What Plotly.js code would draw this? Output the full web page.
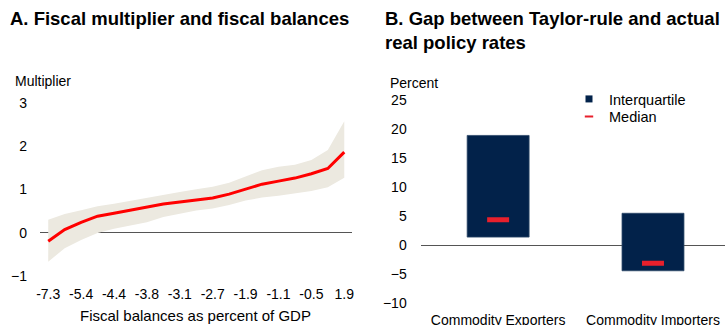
<!DOCTYPE html>
<html>
<head>
<meta charset="utf-8">
<script src="https://cdn.plot.ly/plotly-3.0.1.min.js"></script>
<style>html,body{margin:0;padding:0;background:#fff}#chart{width:725px;height:325px}</style>
</head>
<body>
<div id="chart"></div>
<script>
// ---- Panel A data ----
var pointIndex = [0,1,2,3,4,5,6,7,8,9,10,11,12,13,14,15,16,17,18];
var tickIndex = [0,2,4,6,8,10,12,14,16,18];
var tickLabels = ['-7.3','-5.4','-4.4','-3.8','-3.1','-2.7','-1.9','-1.1','-0.5','1.9'];
var multiplier = [-0.20,0.07,0.24,0.38,0.45,0.52,0.58,0.66,0.71,0.76,0.80,0.89,1.00,1.12,1.19,1.26,1.36,1.48,1.86];
var upperBand  = [0.30,0.43,0.52,0.61,0.67,0.74,0.80,0.87,0.94,1.00,1.06,1.15,1.30,1.44,1.52,1.57,1.68,1.91,2.57];
var lowerBand  = [-0.67,-0.36,-0.17,-0.01,0.09,0.17,0.24,0.36,0.43,0.51,0.56,0.64,0.74,0.81,0.85,0.91,0.96,1.05,1.27];

// ---- Panel B data ----
var groups = ['Commodity Exporters','Commodity Importers'];
var quartile1 = [1.4, -4.4];
var quartile3 = [18.9, 5.5];
var medians = [4.4, -3.1];

var W = 725, H = 325;
function px(x){ return x / W; }
function py(y){ return (H - y) / H; }

var FONT = 'Liberation Sans, Arial, Helvetica, sans-serif';
var NAVY = '#02224A';
var RED = '#E8202C';

var traces = [
  {x: pointIndex, y: lowerBand, type: 'scatter', mode: 'lines', line: {width: 0, color: '#ECE9E0'},
   hoverinfo: 'skip', showlegend: false, xaxis: 'x', yaxis: 'y'},
  {x: pointIndex, y: upperBand, type: 'scatter', mode: 'lines', line: {width: 0, color: '#ECE9E0'},
   fill: 'tonexty', fillcolor: '#ECE9E0', hoverinfo: 'skip', showlegend: false, xaxis: 'x', yaxis: 'y'},
  {x: pointIndex, y: multiplier, type: 'scatter', mode: 'lines', line: {width: 3, color: '#FF0000'},
   showlegend: false, xaxis: 'x', yaxis: 'y'},
  {x: groups, y: quartile3.map(function(v, i){ return v - quartile1[i]; }), base: quartile1, type: 'bar',
   width: 0.4, marker: {color: NAVY, line: {color: '#2c4868', width: 0.8}},
   showlegend: false, xaxis: 'x2', yaxis: 'y2'},
  {x: groups, y: medians, type: 'scatter', mode: 'markers',
   marker: {symbol: 'line-ew', size: 15.7, line: {width: 5, color: RED}},
   showlegend: false, xaxis: 'x2', yaxis: 'y2'},
  // legend entries
  {x: [null], y: [null], type: 'scatter', mode: 'markers', name: 'Interquartile', legend: 'legend',
   marker: {symbol: 'square', size: 7, color: NAVY}, xaxis: 'x2', yaxis: 'y2'},
  {x: [null], y: [null], type: 'scatter', mode: 'markers', name: 'Median', legend: 'legend2',
   marker: {symbol: 'line-ew', size: 6, line: {width: 2, color: RED}}, xaxis: 'x2', yaxis: 'y2'}
];

var axisFont = {family: FONT, size: 14, color: '#000'};
var legendFont = {family: FONT, size: 14.5, color: '#000'};

var layout = {
  width: W, height: H,
  margin: {l: 0, r: 0, t: 0, b: 0},
  paper_bgcolor: '#fff', plot_bgcolor: 'rgba(0,0,0,0)',
  font: {family: FONT, size: 14, color: '#000'},
  showlegend: true,
  legend: {x: px(569), y: py(83), xanchor: 'left', yanchor: 'top', bgcolor: 'rgba(0,0,0,0)',
           traceorder: 'normal', font: legendFont, tracegroupgap: 0, itemwidth: 30},
  legend2: {x: px(569), y: py(100.5), xanchor: 'left', yanchor: 'top', bgcolor: 'rgba(0,0,0,0)',
           traceorder: 'normal', font: legendFont, tracegroupgap: 0, itemwidth: 30},
  xaxis: {domain: [px(40), px(352)], range: [-0.5, 18.47], tickmode: 'array', tickvals: tickIndex,
          ticktext: tickLabels, showgrid: false, zeroline: false, showline: false, ticks: '',
          tickfont: axisFont, ticklabelstandoff: 8, anchor: 'y', fixedrange: true},
  yaxis: {domain: [py(276), py(102.7)], range: [-1, 3], dtick: 1, showgrid: false, zeroline: true,
          zerolinecolor: '#555', zerolinewidth: 1, showline: false, ticks: '', tickfont: axisFont,
          ticklabelstandoff: 12, anchor: 'x', fixedrange: true},
  xaxis2: {domain: [px(420.7), 1], range: [-0.5, 1.465], type: 'category', showgrid: false,
           zeroline: false, showline: false, ticks: '', tickfont: axisFont, ticklabelstandoff: 7,
           anchor: 'y2', fixedrange: true},
  yaxis2: {domain: [py(303.3), py(100)], range: [-10, 25], dtick: 5, showgrid: false, zeroline: true,
           zerolinecolor: '#555', zerolinewidth: 1, showline: false, ticks: '', tickfont: axisFont,
           ticklabelstandoff: 13, anchor: 'x2', fixedrange: true},
  annotations: [
    {text: '<b>A. Fiscal multiplier and fiscal balances</b>', xref: 'paper', yref: 'paper',
     x: px(8), y: py(6), xanchor: 'left', yanchor: 'top', showarrow: false,
     font: {family: FONT, size: 18.5, color: '#000'}},
    {text: '<b>B. Gap between Taylor-rule and actual<br>real policy rates</b>', xref: 'paper', yref: 'paper',
     x: px(383), y: py(6), xanchor: 'left', yanchor: 'top', align: 'left', showarrow: false,
     font: {family: FONT, size: 18.5, color: '#000'}},
    {text: 'Multiplier', xref: 'paper', yref: 'paper', x: px(13), y: py(81), xanchor: 'left',
     yanchor: 'middle', showarrow: false, font: axisFont},
    {text: 'Percent', xref: 'paper', yref: 'paper', x: px(388), y: py(83), xanchor: 'left',
     yanchor: 'middle', showarrow: false, font: axisFont},
    {text: 'Fiscal balances as percent of GDP', xref: 'paper', yref: 'paper', x: px(196), y: py(315),
     xanchor: 'center', yanchor: 'middle', showarrow: false, font: {family: FONT, size: 15, color: '#000'}}
  ]
};

Plotly.newPlot('chart', traces, layout, {displayModeBar: false, staticPlot: true});
</script>
</body>
</html>
